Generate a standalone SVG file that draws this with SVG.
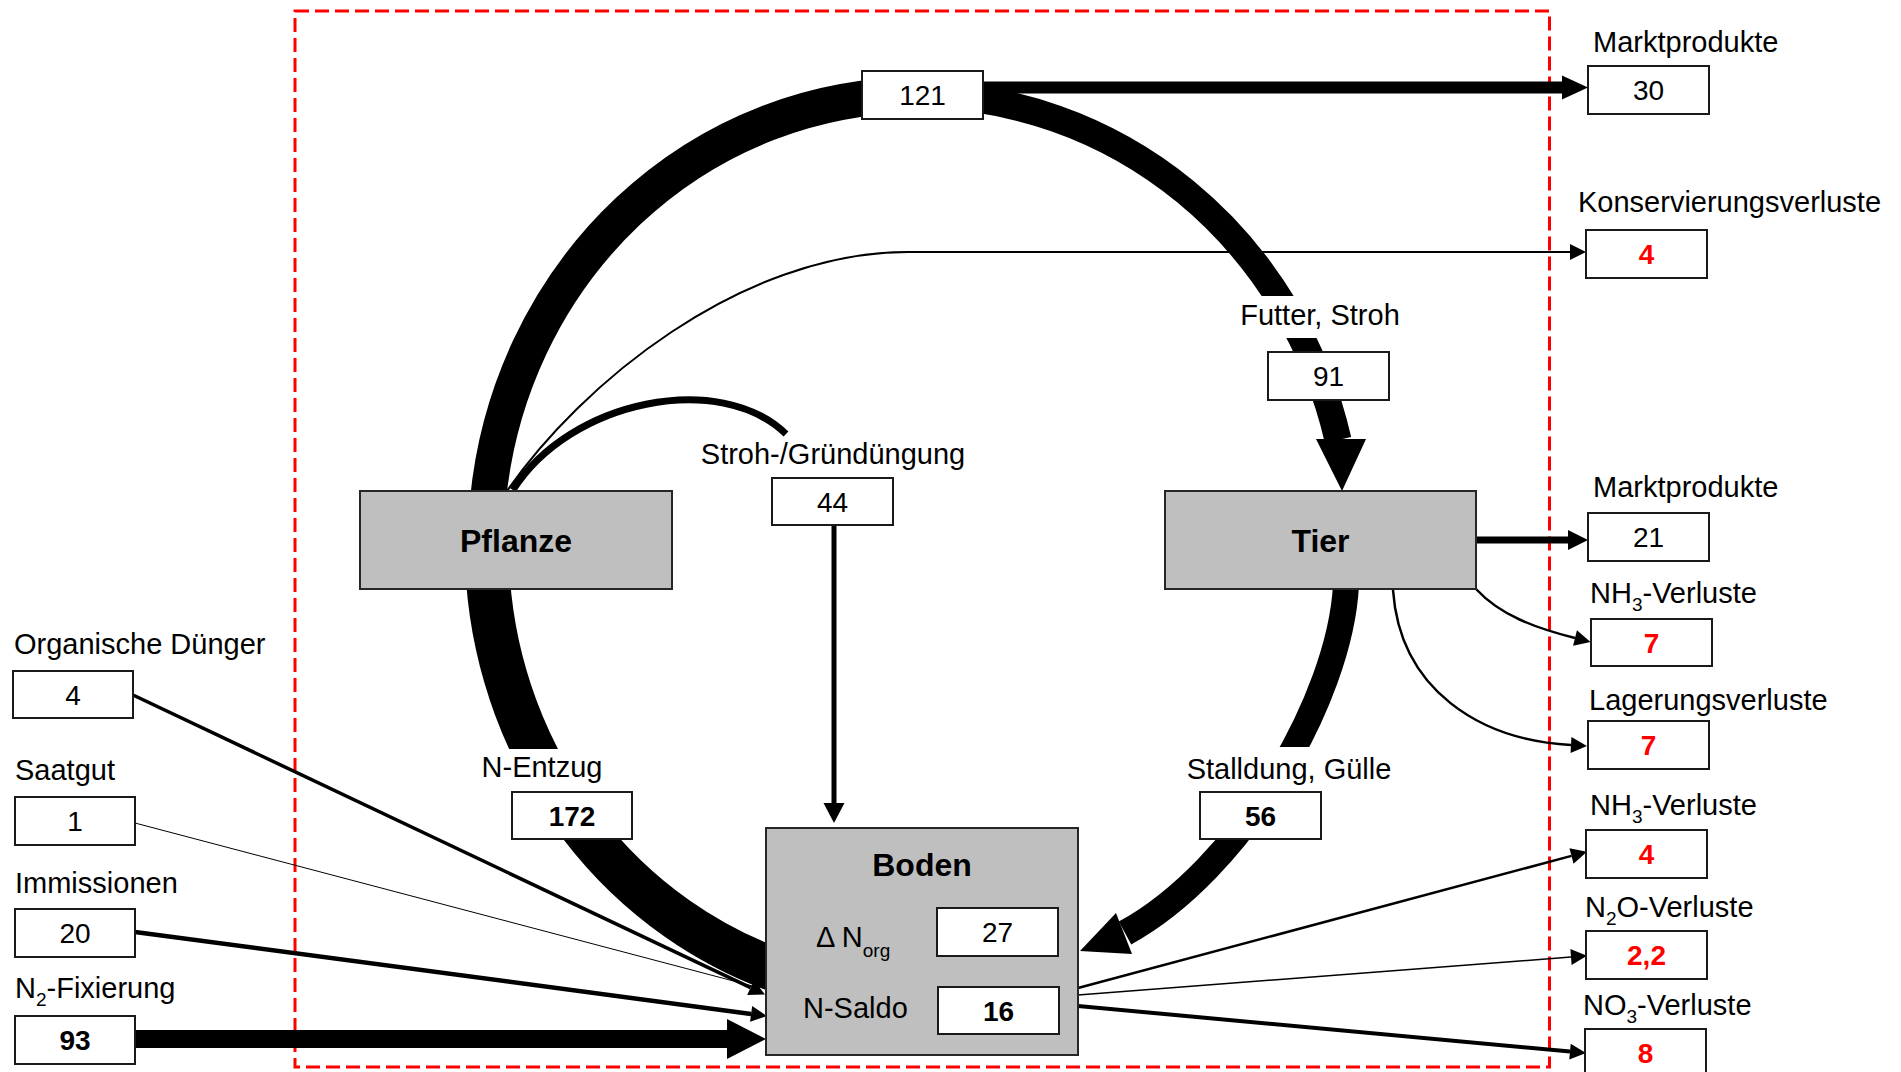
<svg xmlns="http://www.w3.org/2000/svg" width="1901" height="1072" viewBox="0 0 1901 1072">
<style>
text{font-family:"Liberation Sans",Arial,sans-serif;fill:#000}
.lbl{font-size:29px}
.sub{font-size:19px}
.num{font-size:28px;text-anchor:middle}
.bold{font-weight:bold}
.red{fill:#ff0000;font-weight:bold}
.title{font-size:32px;font-weight:bold;text-anchor:middle}
.box{fill:#fff;stroke:#1a1a1a;stroke-width:2}
.gbox{fill:#bfbfbf;stroke:#262626;stroke-width:2}
.ln{fill:none;stroke:#000}
.bg{fill:#fff}
.frame{fill:none;stroke:#ff0000;stroke-width:3;stroke-dasharray:14 6}
</style>
<defs>
<marker id="ah" markerUnits="userSpaceOnUse" orient="auto" refX="0" refY="0" markerWidth="20" markerHeight="20" overflow="visible">
<path d="M0,-8 L16,0 L0,8 z" fill="#000"/>
</marker>
</defs>
<rect width="1901" height="1072" fill="#fff"/>
<rect class="frame" x="295" y="11" width="1254.5" height="1056"/>

<g id="connectors">
<!-- big cycle arcs -->
<path class="ln" stroke-width="36" d="M488 500 A432 450 0 0 1 918 95"/>
<path class="ln" stroke-width="27" d="M918 95 A432 450 0 0 1 1338 440"/>
<polygon points="1316,439 1342,491 1366,439" fill="#000"/>
<path class="ln" stroke-width="26" d="M1346 585 C1340 700 1240 870 1125 933"/>
<polygon points="1080,951 1116,913 1132,954" fill="#000"/>
<path class="ln" stroke-width="44" d="M488 580 A432 450 0 0 0 790 975"/>
<!-- label cut-outs on arcs -->
<rect class="bg" x="1236" y="296" width="168" height="42"/>
<rect class="bg" x="1183" y="747" width="212" height="45"/>
<rect class="bg" x="478" y="749" width="128" height="43"/>
<!-- 121 to Marktprodukte -->
<path class="ln" stroke-width="12" d="M980 87.5 L1562 87.5"/>
<polygon points="1562,75.5 1588,87.5 1562,99.5" fill="#000"/>
<!-- Konservierungsverluste -->
<path class="ln" stroke-width="2" d="M507 491 C580 385 740 252 908 252 L1570 252" marker-end="url(#ah)"/>
<!-- Stroh-/Gruenduengung -->
<path class="ln" stroke-width="7" d="M513 490 C570 400 720 370 786 434"/>
<path class="ln" stroke-width="5" d="M834 525 L834 803"/>
<polygon points="823.5,803 834,823 844.5,803" fill="#000"/>
<!-- Tier to Marktprodukte -->
<path class="ln" stroke-width="7" d="M1476 540 L1568 540"/>
<polygon points="1568,530 1588,540 1568,550" fill="#000"/>
<!-- Tier losses -->
<path class="ln" stroke-width="2.5" d="M1476 589 C1500 615 1535 628 1575 638" marker-end="url(#ah)"/>
<path class="ln" stroke-width="2.5" d="M1393 590 C1400 690 1480 740 1571 745" marker-end="url(#ah)"/>
<!-- inputs to Boden -->
<path class="ln" stroke-width="3.5" d="M133 695 L750.6 987.7" marker-end="url(#ah)"/>
<path class="ln" stroke-width="1" stroke="#333" d="M135 823 L760 988"/>
<path class="ln" stroke-width="4.5" d="M135 932 L751.1 1013.9" marker-end="url(#ah)"/>
<path class="ln" stroke-width="18" d="M135 1039 L727 1039"/>
<polygon points="727,1019 766,1039 727,1059" fill="#000"/>
<!-- Boden losses -->
<path class="ln" stroke-width="2.5" d="M1078 988 L1571.5 855.9" marker-end="url(#ah)"/>
<path class="ln" stroke-width="1.5" d="M1078 995 L1571 957.1" marker-end="url(#ah)"/>
<path class="ln" stroke-width="4" d="M1078 1006 L1570 1051.6" marker-end="url(#ah)"/>
</g>

<g id="lbl-futter"><text class="lbl" x="1320" y="325" text-anchor="middle">Futter, Stroh</text></g>
<g id="lbl-stroh"><text class="lbl" x="833" y="464" text-anchor="middle">Stroh-/Gründüngung</text></g>
<g id="lbl-entzug"><text class="lbl" x="542" y="777" text-anchor="middle">N-Entzug</text></g>
<g id="lbl-stalldung"><text class="lbl" x="1289" y="779" text-anchor="middle">Stalldung, Gülle</text></g>

<g id="n121"><rect class="box" x="862" y="71" width="121" height="48"/><text class="num" x="922.5" y="105">121</text></g>
<g id="n91"><rect class="box" x="1268" y="352" width="121" height="48"/><text class="num" x="1328.5" y="386">91</text></g>
<g id="n44"><rect class="box" x="772" y="478" width="121" height="47"/><text class="num" x="832.5" y="511.5">44</text></g>
<g id="n172"><rect class="box" x="512" y="792" width="120" height="47"/><text class="num bold" x="572" y="825.5">172</text></g>
<g id="n56"><rect class="box" x="1200" y="792" width="121" height="47"/><text class="num bold" x="1260.5" y="825.5">56</text></g>

<g id="pflanze"><rect class="gbox" x="360" y="491" width="312" height="98"/><text class="title" x="516" y="551.5">Pflanze</text></g>
<g id="tier"><rect class="gbox" x="1165" y="491" width="311" height="98"/><text class="title" x="1320.5" y="551.5">Tier</text></g>
<g id="boden">
<rect class="gbox" x="766" y="828" width="312" height="227"/>
<text class="title" x="922" y="876">Boden</text>
<text class="lbl" x="816" y="947">Δ N<tspan class="sub" dy="10">org</tspan></text>
<rect class="box" x="937" y="908" width="121" height="48"/><text class="num" x="997.5" y="942">27</text>
<text class="lbl" x="803" y="1018">N-Saldo</text>
<rect class="box" x="938" y="987" width="121" height="47"/><text class="num bold" x="998.5" y="1020.5">16</text>
</g>

<g id="markt1"><text class="lbl" x="1593" y="52">Marktprodukte</text><rect class="box" x="1588" y="66" width="121" height="48"/><text class="num" x="1648.5" y="100">30</text></g>
<g id="konserv"><text class="lbl" x="1578" y="212">Konservierungsverluste</text><rect class="box" x="1586" y="230" width="121" height="48"/><text class="num red" x="1646.5" y="264">4</text></g>
<g id="markt2"><text class="lbl" x="1593" y="497">Marktprodukte</text><rect class="box" x="1588" y="513" width="121" height="48"/><text class="num" x="1648.5" y="547">21</text></g>
<g id="nh3a"><text class="lbl" x="1590" y="603">NH<tspan class="sub" dy="8">3</tspan><tspan dy="-8">-Verluste</tspan></text><rect class="box" x="1591" y="619" width="121" height="47"/><text class="num red" x="1651.5" y="652.5">7</text></g>
<g id="lager"><text class="lbl" x="1589" y="710">Lagerungsverluste</text><rect class="box" x="1588" y="721" width="121" height="48"/><text class="num red" x="1648.5" y="755">7</text></g>
<g id="nh3b"><text class="lbl" x="1590" y="815">NH<tspan class="sub" dy="8">3</tspan><tspan dy="-8">-Verluste</tspan></text><rect class="box" x="1586" y="830" width="121" height="48"/><text class="num red" x="1646.5" y="864">4</text></g>
<g id="n2o"><text class="lbl" x="1585" y="917">N<tspan class="sub" dy="8">2</tspan><tspan dy="-8">O-Verluste</tspan></text><rect class="box" x="1586" y="931" width="121" height="48"/><text class="num red" x="1646.5" y="965">2,2</text></g>
<g id="no3"><text class="lbl" x="1583" y="1015">NO<tspan class="sub" dy="8">3</tspan><tspan dy="-8">-Verluste</tspan></text><rect class="box" x="1585" y="1029" width="121" height="48"/><text class="num red" x="1645.5" y="1063">8</text></g>

<g id="organisch"><text class="lbl" x="14" y="654">Organische Dünger</text><rect class="box" x="13" y="671" width="120" height="47"/><text class="num" x="73" y="704.5">4</text></g>
<g id="saatgut"><text class="lbl" x="15" y="780">Saatgut</text><rect class="box" x="15" y="797" width="120" height="48"/><text class="num" x="75" y="831">1</text></g>
<g id="immissionen"><text class="lbl" x="15" y="893">Immissionen</text><rect class="box" x="15" y="909" width="120" height="48"/><text class="num" x="75" y="943">20</text></g>
<g id="fixierung"><text class="lbl" x="15" y="998">N<tspan class="sub" dy="8">2</tspan><tspan dy="-8">-Fixierung</tspan></text><rect class="box" x="15" y="1016" width="120" height="48"/><text class="num bold" x="75" y="1050">93</text></g>
</svg>
